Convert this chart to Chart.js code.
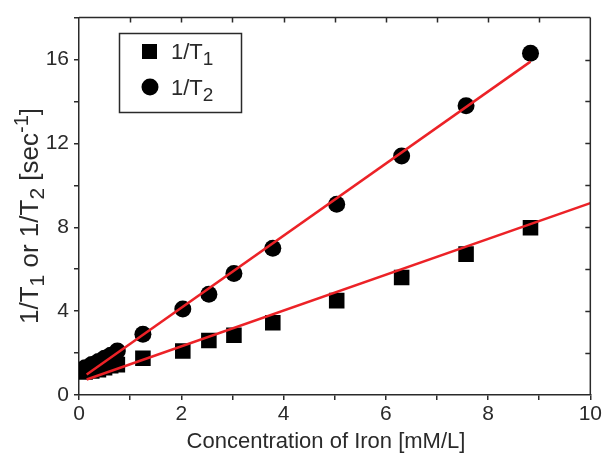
<!DOCTYPE html>
<html>
<head>
<meta charset="utf-8">
<script src="https://cdn.jsdelivr.net/npm/chart.js@4/dist/chart.umd.min.js"></script>
<style>
  html, body { margin: 0; padding: 0; background: #ffffff; }
  #wrap { width: 604px; height: 462px; position: relative; }
</style>
</head>
<body>
<div id="wrap"><canvas id="c" width="604" height="462"></canvas></div>
<script>
// Concentration of iron [mM/L]
const concentration = [0.12, 0.25, 0.38, 0.5, 0.62, 0.75, 1.25, 2.03, 2.54, 3.03, 3.79, 5.04, 6.31, 7.57, 8.83];
// 1/T1 [sec^-1]
const invT1 = [1.1, 1.15, 1.2, 1.3, 1.4, 1.45, 1.75, 2.1, 2.6, 2.85, 3.45, 4.5, 5.6, 6.72, 7.98];
// 1/T2 [sec^-1]
const invT2 = [1.3, 1.45, 1.6, 1.75, 1.9, 2.1, 2.9, 4.1, 4.8, 5.8, 7.0, 9.1, 11.4, 13.8, 16.3];
// Linear fit lines (end points)
const fitT1X = [0.15, 10];
const fitT1Y = [0.74, 9.15];
const fitT2X = [0.15, 8.83];
const fitT2Y = [0.98, 15.9];
// Axis tick labels
const xTickLabels = [0, 2, 4, 6, 8, 10];
const yTickLabels = [0, 4, 8, 12, 16];
const xTitle = 'Concentration of Iron [mM/L]';

const FONT = "'Liberation Sans', Arial, sans-serif";
const INK = '#2a2a2a';
const RED = '#ec2227';

const pts = (xs, ys) => xs.map((x, i) => ({ x: x, y: ys[i] }));

// Frame (top/right), inward mirror ticks, axis titles and legend with subscripts
const decor = {
  id: 'decor',
  afterDraw(chart) {
    const ctx = chart.ctx;
    const a = chart.chartArea;
    const xs = chart.scales.x, ys = chart.scales.y;
    ctx.save();
    ctx.strokeStyle = INK;
    ctx.lineWidth = 1.5;
    ctx.beginPath();
    ctx.moveTo(a.left, a.top); ctx.lineTo(a.right, a.top);
    ctx.moveTo(a.right, a.top); ctx.lineTo(a.right, a.bottom);
    for (let v = xs.min + 1; v < xs.max; v += 1) {
      const px = Math.round(xs.getPixelForValue(v)) + 0.5;
      ctx.moveTo(px, a.top); ctx.lineTo(px, a.top + 5);
    }
    for (let v = ys.min + 2; v < ys.max; v += 2) {
      const py = Math.round(ys.getPixelForValue(v)) + 0.5;
      ctx.moveTo(a.right, py); ctx.lineTo(a.right - 5, py);
    }
    ctx.stroke();

    function runs(segs, x, y) {
      let cx = x;
      segs.forEach(s => {
        ctx.font = s.size + 'px ' + FONT;
        ctx.fillText(s.t, cx, y + (s.dy || 0));
        cx += ctx.measureText(s.t).width;
      });
    }
    function width(segs) {
      let w = 0;
      segs.forEach(s => { ctx.font = s.size + 'px ' + FONT; w += ctx.measureText(s.t).width; });
      return w;
    }

    ctx.fillStyle = INK;
    ctx.textBaseline = 'alphabetic';
    ctx.textAlign = 'left';

    // X axis title
    const xSegs = [{ t: xTitle, size: 22 }];
    runs(xSegs, 326 - width(xSegs) / 2, 448);

    // Y axis title (rotated)
    const ySegs = [
      { t: '1/T', size: 26 }, { t: '1', size: 21, dy: 6 },
      { t: ' or 1/T', size: 26 }, { t: '2', size: 21, dy: 6 },
      { t: ' [sec', size: 26 }, { t: '-1', size: 20, dy: -10 }, { t: ']', size: 26 }
    ];
    ctx.save();
    ctx.translate(38, 216);
    ctx.rotate(-Math.PI / 2);
    runs(ySegs, -width(ySegs) / 2, 0);
    ctx.restore();

    // Legend box
    ctx.lineWidth = 1.5;
    ctx.strokeStyle = INK;
    ctx.strokeRect(119.5, 33.5, 122, 79);
    ctx.fillStyle = '#000';
    ctx.fillRect(142, 44, 15, 15);
    ctx.beginPath();
    ctx.arc(150, 87, 8.5, 0, Math.PI * 2);
    ctx.fill();
    ctx.fillStyle = INK;
    runs([{ t: '1/T', size: 22 }, { t: '1', size: 19, dy: 6 }], 171, 59);
    runs([{ t: '1/T', size: 22 }, { t: '2', size: 19, dy: 6 }], 171, 95);
    ctx.restore();
  }
};

new Chart(document.getElementById('c'), {
  type: 'scatter',
  data: {
    datasets: [
      {
        label: '1/T1 fit', type: 'line', data: pts(fitT1X, fitT1Y),
        borderColor: RED, borderWidth: 2.5, pointRadius: 0, fill: false, order: 0, tension: 0
      },
      {
        label: '1/T2 fit', type: 'line', data: pts(fitT2X, fitT2Y),
        borderColor: RED, borderWidth: 2.5, pointRadius: 0, fill: false, order: 0, tension: 0
      },
      {
        label: '1/T1', data: pts(concentration, invT1),
        pointStyle: 'rect', pointRadius: 11, backgroundColor: '#000', borderColor: '#000',
        borderWidth: 0, order: 1
      },
      {
        label: '1/T2', data: pts(concentration, invT2),
        pointStyle: 'circle', pointRadius: 8.5, backgroundColor: '#000', borderColor: '#000',
        borderWidth: 0, order: 1
      }
    ]
  },
  options: {
    responsive: false,
    animation: false,
    devicePixelRatio: 1,
    layout: { padding: { left: 0, right: 13, top: 14, bottom: 0 } },
    plugins: { legend: { display: false }, tooltip: { enabled: false } },
    scales: {
      x: {
        type: 'linear', min: 0, max: 10,
        afterFit: s => { s.height = 67; },
        ticks: {
          stepSize: 1, autoSkip: false, maxRotation: 0,
          callback: v => xTickLabels.includes(v) ? String(v) : '',
          color: INK, font: { family: FONT, size: 21 }, padding: 2
        },
        grid: { display: true, drawOnChartArea: false, drawTicks: true, tickLength: 5, color: INK, lineWidth: 1.5 },
        border: { display: true, color: INK, width: 1.5 },
        title: { display: false }
      },
      y: {
        type: 'linear', min: 0, max: 18,
        afterFit: s => { s.width = 79; },
        ticks: {
          stepSize: 2, autoSkip: false,
          callback: v => yTickLabels.includes(v) ? String(v) : '',
          color: INK, font: { family: FONT, size: 21 }, padding: 5
        },
        grid: { display: true, drawOnChartArea: false, drawTicks: true, tickLength: 5, color: INK, lineWidth: 1.5 },
        border: { display: true, color: INK, width: 1.5 }
      }
    }
  },
  plugins: [decor]
});
</script>
</body>
</html>
